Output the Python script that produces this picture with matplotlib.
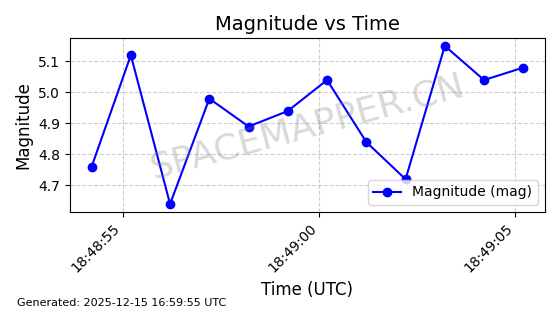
import matplotlib
matplotlib.use('Agg')
import matplotlib.pyplot as plt
import matplotlib.dates as mdates
import pandas as pd

# seconds after 18:48:00 UTC
timeSeconds = [54.2, 55.2, 56.2, 57.2, 58.2, 59.2, 60.2, 61.2, 62.2, 63.2, 64.2, 65.2]
magnitudes = [4.76, 5.12, 4.64, 4.98, 4.89, 4.94, 5.04, 4.84, 4.72, 5.15, 5.04, 5.08]

baseTime = pd.Timestamp('2025-12-15 18:48:00')
times = [baseTime + pd.Timedelta(seconds=s) for s in timeSeconds]

fig, ax = plt.subplots(figsize=(5.6, 3.14), dpi=100)
fig.subplots_adjust(left=0.125, right=0.973, top=0.879, bottom=0.325)

ax.plot(times, magnitudes, marker='o', color='blue', label='Magnitude (mag)')
ax.set_title('Magnitude vs Time', fontsize=14)
ax.set_xlabel('Time (UTC)', fontsize=12)
ax.set_ylabel('Magnitude', fontsize=12)
ax.grid(True, linestyle='--', alpha=0.6)
ax.xaxis.set_major_locator(mdates.SecondLocator(bysecond=range(0, 60, 5)))
ax.xaxis.set_major_formatter(mdates.DateFormatter('%H:%M:%S'))
plt.setp(ax.get_xticklabels(), rotation=45, ha='right')
ax.legend(loc='lower right')

ax.text(0.5, 0.49, 'SPACEMAPPER.CN', transform=ax.transAxes, fontsize=26,
	color='gray', alpha=0.3, rotation=15, ha='center', va='center')

fig.text(0.03, 0.025, 'Generated: 2025-12-15 16:59:55 UTC', fontsize=8)

fig.savefig('out.png', dpi=100)
